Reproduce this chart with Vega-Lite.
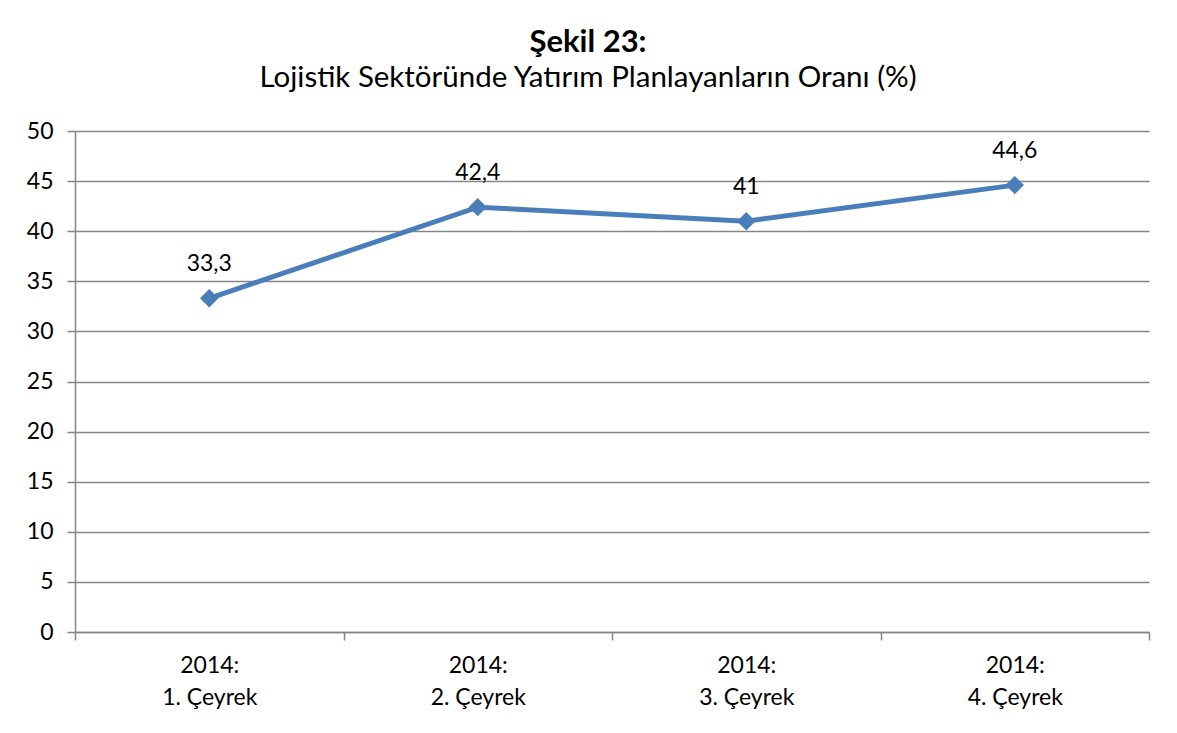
{
  "$schema": "https://vega.github.io/schema/vega-lite/v6.json",
  "width": 1074,
  "height": 501,
  "autosize": {"type": "none"},
  "padding": {"left": 75, "top": 131, "right": 28, "bottom": 101},
  "background": "white",
  "title": {
    "text": "Şekil 23:",
    "subtitle": "Lojistik Sektöründe Yatırım Planlayanların Oranı (%)",
    "anchor": "middle",
    "frame": "bounds",
    "font": "Lato",
    "fontSize": 31,
    "fontWeight": "bold",
    "color": "#000000",
    "subtitleFont": "Lato",
    "subtitleFontSize": 29.5,
    "subtitleColor": "#000000",
    "subtitlePadding": 5,
    "offset": 27
  },
  "data": {
    "values": [
      {"q": "2014:|1. Çeyrek", "v": 33.3},
      {"q": "2014:|2. Çeyrek", "v": 42.4},
      {"q": "2014:|3. Çeyrek", "v": 41},
      {"q": "2014:|4. Çeyrek", "v": 44.6}
    ]
  },
  "encoding": {
    "x": {
      "field": "q",
      "type": "nominal",
      "sort": null,
      "scale": {"type": "band", "paddingInner": 0, "paddingOuter": 0},
      "axis": {
        "title": null,
        "labelAngle": 0,
        "labelExpr": "isValid(datum.value) ? split(datum.value, '|') : ''",
        "labelFont": "Lato",
        "labelFontSize": 23,
        "labelColor": "#000000",
        "labelLineHeight": 32,
        "labelPadding": 14,
        "tickBand": "extent",
        "tickSize": 8,
        "tickColor": "#868686",
        "tickWidth": 1.5,
        "domainColor": "#868686",
        "domainWidth": 1.5,
        "grid": false
      }
    },
    "y": {
      "field": "v",
      "type": "quantitative",
      "scale": {"domain": [0, 50], "nice": false},
      "axis": {
        "title": null,
        "values": [0, 5, 10, 15, 20, 25, 30, 35, 40, 45, 50],
        "labelFont": "Lato",
        "labelFontSize": 23,
        "labelColor": "#000000",
        "labelPadding": 14,
        "tickSize": 8,
        "tickColor": "#868686",
        "tickWidth": 1.5,
        "domainColor": "#868686",
        "domainWidth": 1.5,
        "grid": true,
        "gridColor": "#868686",
        "gridWidth": 1.5
      }
    }
  },
  "layer": [
    {"mark": {"type": "line", "color": "#4A7EBB", "strokeWidth": 5}},
    {"mark": {"type": "point", "shape": "diamond", "filled": true, "size": 340, "color": "#4A7EBB", "opacity": 1}},
    {
      "mark": {"type": "text", "dy": -34, "font": "Lato", "fontSize": 23, "color": "#000000"},
      "encoding": {"text": {"field": "v", "type": "quantitative", "format": "~g"}}
    }
  ],
  "config": {
    "view": {"stroke": null},
    "locale": {
      "number": {"decimal": ",", "thousands": ".", "grouping": [3], "currency": ["", " TL"]}
    }
  }
}
